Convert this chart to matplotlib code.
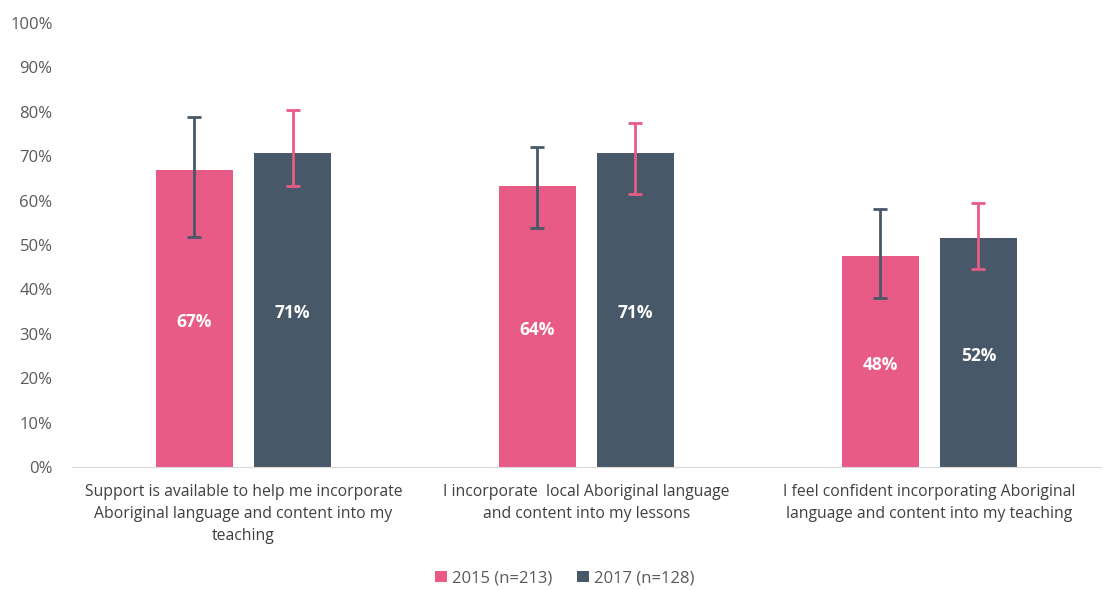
import numpy as np
import matplotlib.pyplot as plt

plt.rcParams['font.family'] = ['Open Sans', 'DejaVu Sans']

# data
categories = ['Support is available to help me incorporate\nAboriginal language and content into my\nteaching',
              'I incorporate  local Aboriginal language\nand content into my lessons',
              'I feel confident incorporating Aboriginal\nlanguage and content into my teaching']
series = ['2015 (n=213)', '2017 (n=128)']
vals_2015 = [66.9, 63.2, 47.6]
vals_2017 = [70.8, 70.8, 51.5]
labels_2015 = ['67%', '64%', '48%']
labels_2017 = ['71%', '71%', '52%']
lo_2015 = [51.8, 53.8, 38.1]
hi_2015 = [78.8, 72.1, 58.1]
lo_2017 = [63.3, 61.5, 44.6]
hi_2017 = [80.4, 77.5, 59.5]

pink = '#E95B87'
dark = '#475868'
grey = '#595959'

fig = plt.figure(figsize=(11.03, 5.9), dpi=100)
ax = fig.add_axes([0.0653, 0.2085, 0.9327, 0.7525])

x = np.arange(len(categories))
w = 0.224
off = 0.143

b1 = ax.bar(x - off, vals_2015, w, color=pink, label=series[0], zorder=2)
b2 = ax.bar(x + off, vals_2017, w, color=dark, label=series[1], zorder=2)

v15 = np.array(vals_2015)
v17 = np.array(vals_2017)
err15 = [v15 - np.array(lo_2015), np.array(hi_2015) - v15]
err17 = [v17 - np.array(lo_2017), np.array(hi_2017) - v17]
ax.errorbar(x - off, v15, yerr=err15, fmt='none', ecolor=dark, elinewidth=2, capsize=5, capthick=2, zorder=3)
ax.errorbar(x + off, v17, yerr=err17, fmt='none', ecolor=pink, elinewidth=2, capsize=5, capthick=2, zorder=3)

for bars, labs in ((b1, labels_2015), (b2, labels_2017)):
    for b, t in zip(bars, labs):
        ax.text(b.get_x() + b.get_width() / 2, b.get_height() / 2 - 0.8, t,
                ha='center', va='center', color='white', fontsize=12.5, fontweight='bold', zorder=4)

ax.set_xlim(-0.5, 2.5)
ax.set_ylim(0, 100)
ax.set_yticks(np.arange(0, 101, 10))
ax.set_yticklabels([f'{v}%' for v in range(0, 101, 10)], color=grey, fontsize=12)
ax.set_xticks(x)
ax.set_xticklabels(categories, color='#404040', fontsize=11.3, linespacing=1.5)
ax.tick_params(axis='both', length=0)
ax.tick_params(axis='x', pad=12)
ax.tick_params(axis='y', pad=14)
for s in ['top', 'right', 'left']:
    ax.spines[s].set_visible(False)
ax.spines['bottom'].set_color('#d9d9d9')

fig.legend(handles=[b1, b2], labels=series, loc='center', bbox_to_anchor=(0.512, 0.02),
           ncol=2, frameon=False, fontsize=12, labelcolor=grey, handlelength=0.7,
           handleheight=0.7, handletextpad=0.3, columnspacing=1.5)

fig.savefig('out.png', dpi=100)
